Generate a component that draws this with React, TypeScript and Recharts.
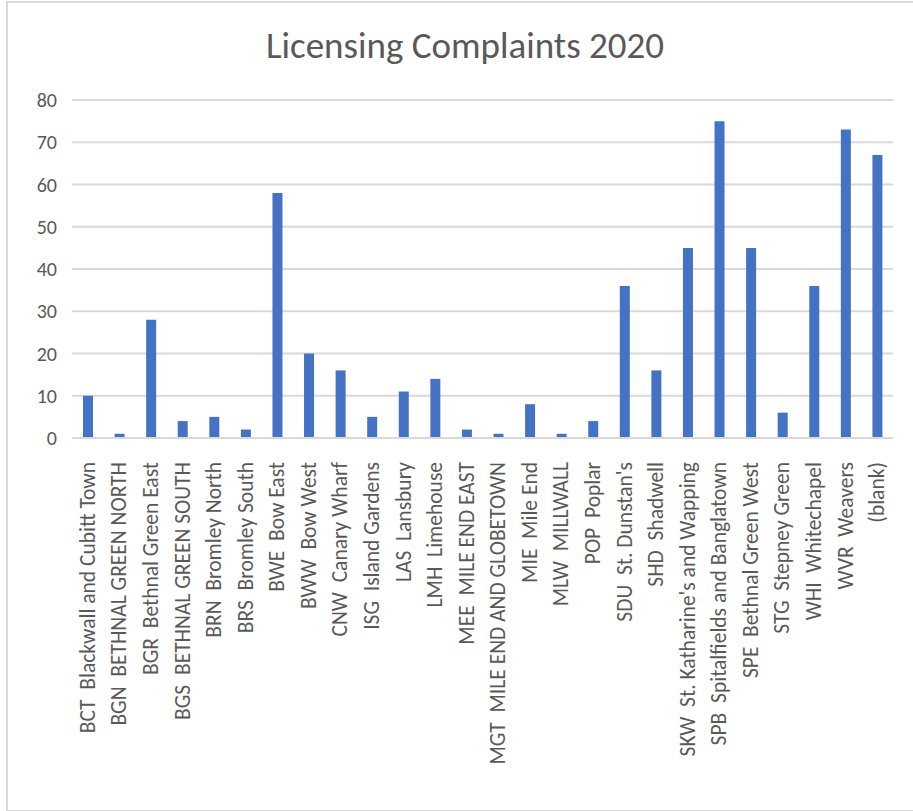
import React from "react";
import { BarChart, Bar, XAxis, YAxis, CartesianGrid } from "recharts";

const wards = [
  "BCT  Blackwall and Cubitt Town",
  "BGN  BETHNAL GREEN NORTH",
  "BGR  Bethnal Green East",
  "BGS  BETHNAL GREEN SOUTH",
  "BRN  Bromley North",
  "BRS  Bromley South",
  "BWE  Bow East",
  "BWW  Bow West",
  "CNW  Canary Wharf",
  "ISG  Island Gardens",
  "LAS  Lansbury",
  "LMH  Limehouse",
  "MEE  MILE END EAST",
  "MGT  MILE END AND GLOBETOWN",
  "MIE  Mile End",
  "MLW  MILLWALL",
  "POP  Poplar",
  "SDU  St. Dunstan's",
  "SHD  Shadwell",
  "SKW  St. Katharine's and Wapping",
  "SPB  Spitalfields and Banglatown",
  "SPE  Bethnal Green West",
  "STG  Stepney Green",
  "WHI  Whitechapel",
  "WVR  Weavers",
  "(blank)",
];

const complaints = [10, 1, 28, 4, 5, 2, 58, 20, 16, 5, 11, 14, 2, 1, 8, 1, 4, 36, 16, 45, 75, 45, 6, 36, 73, 67];

const yTicks = [0, 10, 20, 30, 40, 50, 60, 70, 80];

const data = wards.map((ward, i) => ({ ward, count: complaints[i] }));

const FONT = "Carlito, 'Open Sans', sans-serif";
const GREY = "#595959";

function WardTick({ x, y, payload }: any) {
  return (
    <text
      x={0}
      y={0}
      transform={`translate(${x + 7},${y + 16}) rotate(-90)`}
      textAnchor="end"
      fontSize={21.5}
      fontFamily={FONT}
      fill={GREY}
      style={{ whiteSpace: "pre" }}
    >
      {payload.value}
    </text>
  );
}

export default function App() {
  return (
    <div style={{ position: "absolute", left: 0, top: 0, width: 913, height: 811, overflow: "hidden", background: "#fff" }}>
      <div
        style={{
          position: "absolute",
          left: 6,
          top: 1,
          width: 940,
          height: 807,
          border: "2px solid #d9d9d9",
        }}
      />
      <div
        style={{
          position: "absolute",
          left: 0,
          top: 22,
          width: 930,
          textAlign: "center",
          fontFamily: FONT,
          fontSize: 37,
          lineHeight: "48px",
          color: GREY,
        }}
      >
        Licensing Complaints 2020
      </div>
      <div style={{ position: "absolute", left: 0, top: 0 }}>
        <BarChart
          width={913}
          height={811}
          data={data}
          margin={{ top: 100, right: 20, bottom: 0, left: 32 }}
          barCategoryGap={0}
        >
          <CartesianGrid vertical={false} stroke="#d9d9d9" strokeWidth={2} />
          <XAxis
            dataKey="ward"
            interval={0}
            height={373}
            tick={<WardTick />}
            tickLine={false}
            axisLine={{ stroke: "#d9d9d9", strokeWidth: 2 }}
          />
          <YAxis
            width={40}
            domain={[0, 80]}
            ticks={yTicks}
            axisLine={false}
            tickLine={false}
            tickSize={0}
            tickMargin={15}
            tick={{ fontSize: 20, fontFamily: FONT, fill: GREY }}
          />
          <Bar dataKey="count" fill="#4472c4" barSize={10} isAnimationActive={false} />
        </BarChart>
      </div>
    </div>
  );
}
